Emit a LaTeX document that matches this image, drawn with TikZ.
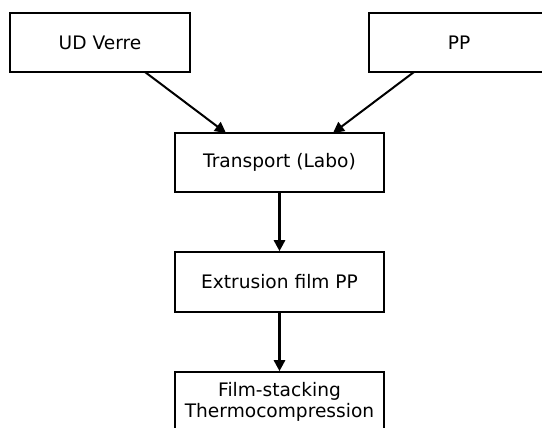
\documentclass[tikz,border=0pt]{standalone}
\usepackage{fontspec}
\setmainfont{DejaVu Sans}
\usetikzlibrary{arrows.meta}
\begin{document}
\begin{tikzpicture}[x=1pt,y=-1pt,
  box/.style={draw=black,line width=1.6pt,rectangle,inner sep=0pt,align=center,font=\fontsize{18.6}{21}\selectfont},
  flow/.style={line width=2.6pt,-{Triangle[length=11pt,width=11pt]}},
  thin flow/.style={line width=2pt,-{Triangle[length=11pt,width=11pt]}}]
\useasboundingbox (0,0) rectangle (542,428);
\node[box,minimum width=180pt,minimum height=59pt] (ud) at (100,42.5) {UD Verre};
\node[box,minimum width=180pt,minimum height=59pt] (pp) at (459,42.5) {PP};
\node[box,minimum width=209pt,minimum height=59pt] (tr) at (279.5,162.5) {Transport (Labo)};
\node[box,minimum width=209pt,minimum height=60pt] (ex) at (279.5,282) {Extrusion film PP};
\node[box,minimum width=209pt,minimum height=60pt] (fs) at (279.5,402) {Film-stacking\\Thermocompression};
\coordinate (udout) at (145,72);
\coordinate (ppout) at (414,72);
\coordinate (trin1) at (226,133);
\coordinate (trin2) at (333,133);
\draw[thin flow] (udout) -- (trin1);
\draw[thin flow] (ppout) -- (trin2);
\draw[flow] (tr.south) -- (ex.north);
\draw[flow] (ex.south) -- (fs.north);
\end{tikzpicture}
\end{document}
